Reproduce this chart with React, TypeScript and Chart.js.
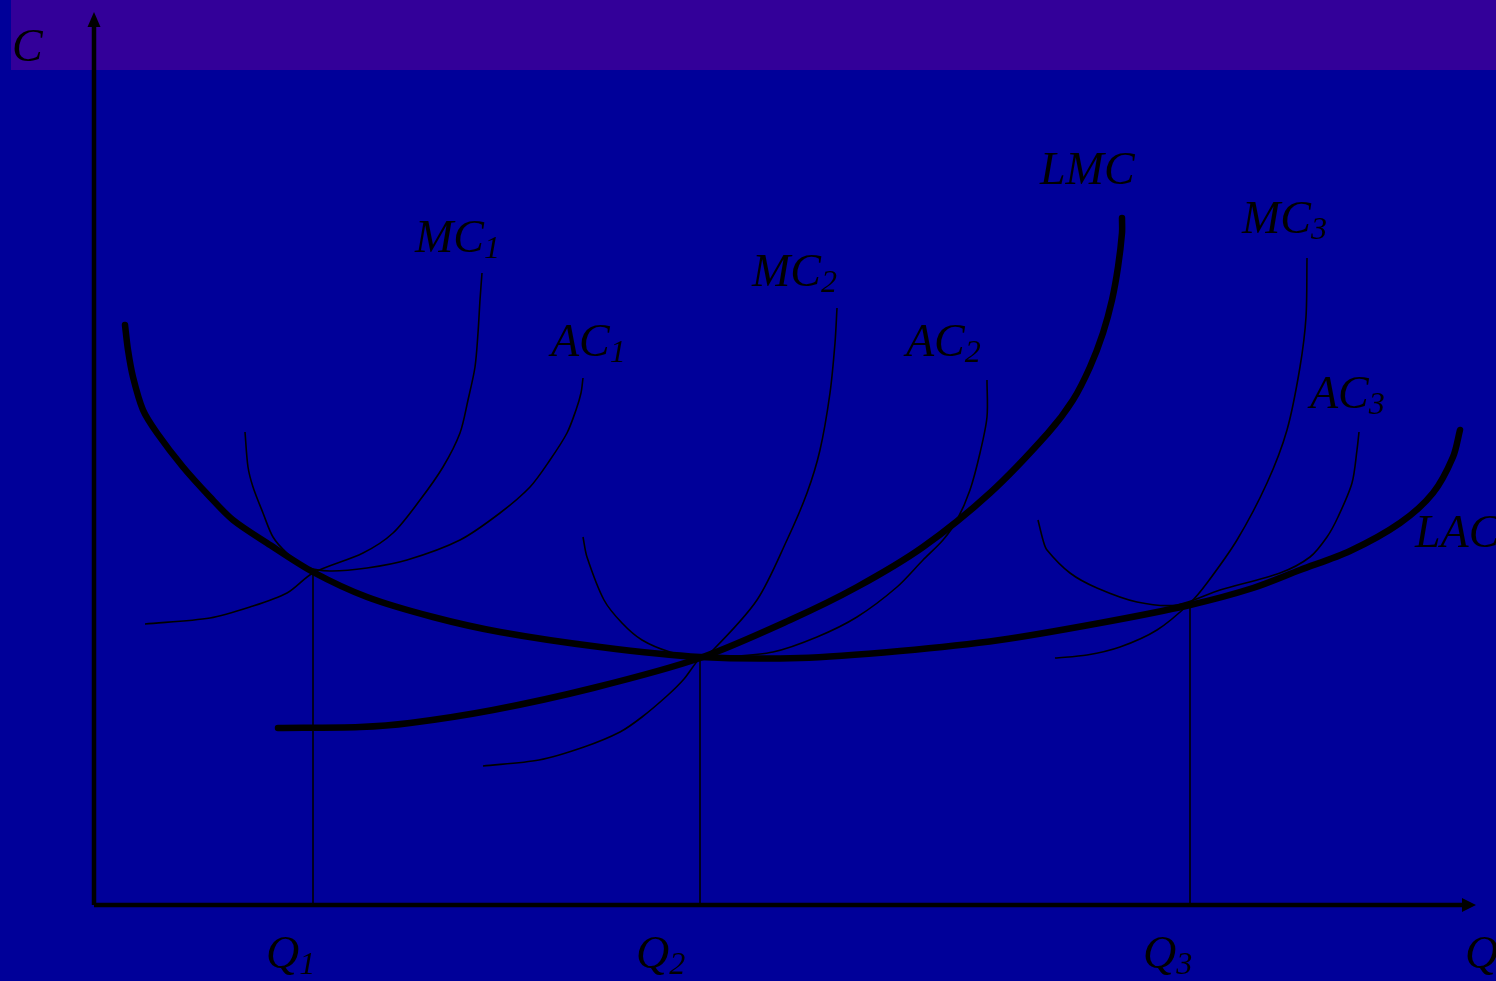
import React, { useEffect, useRef } from "react";
import { Chart, registerables } from "chart.js";

Chart.register(...registerables);

// Output Q on the horizontal axis, cost C on the vertical axis (arbitrary units).
const Q_MIN = -9.4;
const Q_MAX = 140.2;
const C_MIN = -7.6;
const C_MAX = 90.5;
const Q_AXIS_END = 138.2;
const C_AXIS_END = 89.3;

// Long-run average cost
const LAC: [number, number][] = [
  [3.1, 58.0], [3.4, 55.5], [3.9, 52.8], [4.9, 49.5], [6.3, 47.2], [8.9, 43.8],
  [11.6, 40.8], [13.9, 38.5], [17.3, 36.2], [21.9, 33.3], [27.3, 30.8], [33.9, 28.8],
  [40.6, 27.3], [50.6, 25.8], [60.6, 24.8], [70.6, 24.7], [80.6, 25.4], [90.6, 26.5],
  [100.6, 28.2], [109.6, 30.0], [115.9, 31.7], [120.6, 33.5], [125.6, 35.4],
  [130.6, 38.2], [133.9, 41.2], [135.9, 44.8], [136.6, 47.5],
];

// Long-run marginal cost
const LMC: [number, number][] = [
  [18.4, 17.7], [26.6, 17.8], [31.6, 18.2], [39.9, 19.5], [49.9, 21.7], [60.6, 24.7],
  [69.6, 28.5], [76.3, 31.8], [82.9, 35.8], [89.6, 41.2], [95.4, 47.2], [97.9, 50.5],
  [99.6, 53.8], [100.9, 57.2], [101.8, 60.5], [102.4, 63.8], [102.8, 67.2], [102.8, 68.7],
];

// Short-run marginal and average costs for the three plant sizes
const MC1: [number, number][] = [
  [5.1, 28.1], [11.6, 28.7], [15.6, 29.8], [19.3, 31.2], [21.9, 33.2], [26.9, 35.2],
  [29.9, 37.2], [32.6, 40.5], [34.9, 43.8], [36.6, 47.2], [37.4, 50.5], [38.1, 53.8],
  [38.4, 57.2], [38.6, 60.5], [38.8, 63.2],
];
const AC1: [number, number][] = [
  [15.1, 47.3], [15.4, 43.8], [15.9, 41.8], [16.9, 39.2], [17.9, 36.8], [19.3, 35.2],
  [21.3, 33.8], [23.6, 33.4], [27.3, 33.7], [31.3, 34.5], [36.6, 36.5], [40.6, 39.2],
  [43.6, 41.8], [45.6, 44.5], [47.3, 47.2], [48.2, 49.5], [48.7, 51.2], [48.9, 52.7],
];
const MC2: [number, number][] = [
  [38.9, 13.9], [44.5, 14.5], [49.0, 15.8], [52.6, 17.3], [54.8, 18.8], [57.4, 21.0],
  [59.0, 22.6], [60.6, 24.7], [61.9, 25.5], [66.3, 30.5], [69.3, 36.5], [71.3, 41.2],
  [72.6, 45.5], [73.6, 51.2], [74.1, 56.2], [74.3, 59.7],
];
const AC2: [number, number][] = [
  [48.9, 36.8], [49.3, 34.8], [51.0, 30.5], [52.8, 28.2], [54.8, 26.5], [57.6, 25.3],
  [60.6, 24.7], [62.9, 24.8], [67.9, 25.3], [72.3, 26.8], [76.3, 28.8], [80.3, 31.8],
  [82.9, 34.5], [84.9, 36.5], [86.3, 38.5], [87.6, 41.5], [88.6, 45.2], [89.3, 48.8],
  [89.3, 52.5],
];
const MC3: [number, number][] = [
  [96.1, 24.7], [99.3, 25.0], [102.6, 25.8], [106.3, 27.5], [109.6, 30.2], [111.3, 32.2],
  [114.3, 36.5], [117.3, 42.2], [119.3, 47.5], [120.6, 53.8], [121.2, 58.8], [121.3, 64.7],
];
const AC3: [number, number][] = [
  [94.4, 38.5], [94.9, 36.5], [95.3, 35.5], [97.6, 33.2], [100.3, 31.7], [104.3, 30.3],
  [108.3, 30.0], [112.6, 31.5], [118.6, 33.2], [121.6, 34.8], [123.3, 36.8],
  [124.4, 38.8], [125.8, 42.2], [126.3, 45.5], [126.5, 47.3],
];

// Tangency outputs and the cost level at each
const Q_STARS = [21.9, 60.6, 109.6];
const C_STARS = [33.3, 24.7, 30.0];

// Text labels: main text, subscript, anchor (q, c) at the left baseline
const LABEL_TEXT = ["C", "LMC", "MC", "AC", "MC", "AC", "MC", "AC", "LAC", "Q", "Q", "Q", "Q"];
const LABEL_SUB = ["", "", "1", "1", "2", "2", "3", "3", "", "1", "2", "3", ""];
const LABEL_Q = [-8.2, 94.6, 32.1, 45.7, 65.8, 81.2, 114.8, 121.6, 132.1, 17.2, 54.2, 104.9, 137.1];
const LABEL_C = [84.4, 72.1, 65.3, 54.9, 61.9, 54.9, 67.2, 49.7, 35.8, -6.3, -6.3, -6.3, -6.3];

const toPts = (arr: [number, number][]) => arr.map(([x, y]) => ({ x, y }));

export default function App() {
  const ref = useRef<HTMLCanvasElement | null>(null);

  useEffect(() => {
    document.body.style.margin = "0";
    const canvas = ref.current;
    if (!canvas) return;

    const backdrop = {
      id: "backdrop",
      beforeDraw(chart: any) {
        const { ctx, width, height } = chart;
        ctx.save();
        ctx.fillStyle = "#000099";
        ctx.fillRect(0, 0, width, height);
        ctx.fillStyle = "#330099";
        ctx.fillRect(11, 0, width - 11, 70);
        ctx.restore();
      },
    };

    const axesAndLabels = {
      id: "axesAndLabels",
      afterDatasetsDraw(chart: any) {
        const { ctx } = chart;
        const xs = chart.scales.x;
        const ys = chart.scales.y;
        const ox = xs.getPixelForValue(0);
        const oy = ys.getPixelForValue(0);
        const ex = xs.getPixelForValue(Q_AXIS_END);
        const ey = ys.getPixelForValue(C_AXIS_END);
        ctx.save();
        ctx.strokeStyle = "#000";
        ctx.fillStyle = "#000";
        ctx.lineWidth = 4.5;
        ctx.beginPath();
        ctx.moveTo(ox, oy);
        ctx.lineTo(ex - 10, oy);
        ctx.moveTo(ox, oy);
        ctx.lineTo(ox, ey + 10);
        ctx.stroke();
        // arrowheads
        ctx.beginPath();
        ctx.moveTo(ex, oy);
        ctx.lineTo(ex - 14, oy - 7);
        ctx.lineTo(ex - 14, oy + 7);
        ctx.closePath();
        ctx.fill();
        ctx.beginPath();
        ctx.moveTo(ox, ey);
        ctx.lineTo(ox - 6.5, ey + 15);
        ctx.lineTo(ox + 6.5, ey + 15);
        ctx.closePath();
        ctx.fill();

        ctx.textBaseline = "alphabetic";
        ctx.textAlign = "left";
        LABEL_TEXT.forEach((t, i) => {
          const px = xs.getPixelForValue(LABEL_Q[i]);
          const py = ys.getPixelForValue(LABEL_C[i]);
          ctx.font = 'italic 46px "Liberation Serif", "Times New Roman", serif';
          ctx.fillText(t, px, py);
          const w = ctx.measureText(t).width;
          if (LABEL_SUB[i]) {
            ctx.font = 'italic 32px "Liberation Serif", "Times New Roman", serif';
            ctx.fillText(LABEL_SUB[i], px + w, py + 6);
          }
        });
        ctx.restore();
      },
    };

    const thick = (data: [number, number][]) => ({
      data: toPts(data),
      showLine: true,
      borderColor: "#000",
      borderWidth: 6.5,
      borderCapStyle: "round" as const,
      pointRadius: 0,
      tension: 0.3,
      fill: false,
    });
    const thin = (data: [number, number][]) => ({
      data: toPts(data),
      showLine: true,
      borderColor: "#000",
      borderWidth: 1.6,
      pointRadius: 0,
      tension: 0.3,
      fill: false,
    });
    const drops = Q_STARS.map((q, i) => ({
      data: [{ x: q, y: 0 }, { x: q, y: C_STARS[i] }],
      showLine: true,
      borderColor: "#000",
      borderWidth: 1.6,
      pointRadius: 0,
      tension: 0,
      fill: false,
    }));

    const chart = new Chart(canvas, {
      type: "scatter",
      data: {
        datasets: [
          ...drops,
          thin(MC1), thin(AC1), thin(MC2), thin(AC2), thin(MC3), thin(AC3),
          thick(LAC), thick(LMC),
        ] as any,
      },
      options: {
        responsive: false,
        maintainAspectRatio: false,
        animation: false,
        devicePixelRatio: 1,
        layout: { padding: 0 },
        plugins: { legend: { display: false }, tooltip: { enabled: false }, title: { display: false } },
        scales: {
          x: { type: "linear", min: Q_MIN, max: Q_MAX, display: false },
          y: { type: "linear", min: C_MIN, max: C_MAX, display: false },
        },
      },
      plugins: [backdrop, axesAndLabels],
    });
    return () => chart.destroy();
  }, []);

  return <canvas ref={ref} width={1496} height={981} style={{ display: "block" }} />;
}
